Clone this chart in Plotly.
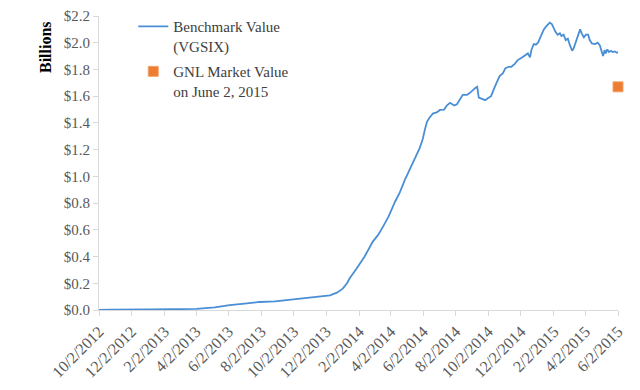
import plotly.graph_objects as go

bench_dates = [
    "2012-10-02", "2012-10-23", "2013-01-05", "2013-04-03", "2013-05-07", "2013-06-04",
    "2013-07-02", "2013-07-30", "2013-08-28", "2013-09-30", "2013-10-28", "2013-11-26",
    "2013-12-09", "2013-12-22", "2014-01-02", "2014-01-10", "2014-01-15", "2014-01-28",
    "2014-02-12", "2014-02-27", "2014-03-09", "2014-03-18", "2014-03-29", "2014-04-10",
    "2014-04-19", "2014-04-28", "2014-05-08", "2014-05-19", "2014-05-26", "2014-06-01",
    "2014-06-05", "2014-06-09", "2014-06-14", "2014-06-20", "2014-06-28", "2014-07-03",
    "2014-07-11", "2014-07-16", "2014-07-22", "2014-07-30", "2014-08-04", "2014-08-10",
    "2014-08-15", "2014-08-23", "2014-08-30", "2014-09-07", "2014-09-11", "2014-09-14",
    "2014-09-20", "2014-09-26", "2014-10-01", "2014-10-07", "2014-10-14", "2014-10-23",
    "2014-10-29", "2014-11-03", "2014-11-09", "2014-11-14", "2014-11-20", "2014-11-26",
    "2014-12-04", "2014-12-11", "2014-12-15", "2014-12-19", "2014-12-22", "2014-12-26",
    "2014-12-30", "2015-01-03", "2015-01-06", "2015-01-10", "2015-01-14", "2015-01-18",
    "2015-01-21", "2015-01-25", "2015-01-29", "2015-02-02", "2015-02-05", "2015-02-09",
    "2015-02-13", "2015-02-16", "2015-02-20", "2015-02-24", "2015-02-28", "2015-03-04",
    "2015-03-08", "2015-03-11", "2015-03-15", "2015-03-19", "2015-03-23", "2015-03-26",
    "2015-03-30", "2015-04-03", "2015-04-07", "2015-04-10", "2015-04-14", "2015-04-20",
    "2015-04-25", "2015-04-29", "2015-05-02", "2015-05-05", "2015-05-08", "2015-05-10",
    "2015-05-13", "2015-05-16", "2015-05-20", "2015-05-23", "2015-05-27", "2015-05-31",
    "2015-06-02",
]
bench_values = [
    0.000, 0.003, 0.004, 0.008, 0.020, 0.037,
    0.048, 0.060, 0.065, 0.080, 0.092, 0.102,
    0.110, 0.130, 0.160, 0.200, 0.237, 0.310,
    0.400, 0.510, 0.560, 0.620, 0.700, 0.810,
    0.880, 0.970, 1.050, 1.150, 1.210, 1.280,
    1.350, 1.410, 1.440, 1.470, 1.480, 1.497,
    1.500, 1.530, 1.550, 1.530, 1.540, 1.580,
    1.610, 1.610, 1.630, 1.660, 1.670, 1.590,
    1.580, 1.570, 1.585, 1.600, 1.670, 1.750,
    1.770, 1.810, 1.820, 1.820, 1.840, 1.870,
    1.890, 1.910, 1.920, 1.890, 1.950, 1.990,
    1.985, 2.000, 2.030, 2.070, 2.100, 2.120,
    2.130, 2.150, 2.140, 2.100, 2.080, 2.060,
    2.070, 2.050, 2.060, 2.020, 2.030, 1.980,
    1.940, 1.960, 2.010, 2.060, 2.100, 2.070,
    2.040, 2.060, 2.060, 2.020, 1.995, 1.990,
    2.000, 1.980, 1.930, 1.900, 1.945, 1.920,
    1.950, 1.930, 1.940, 1.930, 1.935, 1.925,
    1.930,
]

gnl_dates = ["2015-06-02"]
gnl_values = [1.67]

tick_dates = [
    "2012-10-02", "2012-12-02", "2013-02-02", "2013-04-02", "2013-06-02", "2013-08-02",
    "2013-10-02", "2013-12-02", "2014-02-02", "2014-04-02", "2014-06-02", "2014-08-02",
    "2014-10-02", "2014-12-02", "2015-02-02", "2015-04-02", "2015-06-02",
]
tick_labels = [
    "10/2/2012", "12/2/2012", "2/2/2013", "4/2/2013", "6/2/2013", "8/2/2013",
    "10/2/2013", "12/2/2013", "2/2/2014", "4/2/2014", "6/2/2014", "8/2/2014",
    "10/2/2014", "12/2/2014", "2/2/2015", "4/2/2015", "6/2/2015",
]

FONT = "Liberation Serif"

fig = go.Figure()
fig.add_trace(go.Scatter(
    x=bench_dates, y=bench_values, mode="lines",
    name="Benchmark Value<br>(VGSIX)", legendgroup="a",
    line=dict(color="#4A8FD6", width=1.8),
))
fig.add_trace(go.Scatter(
    x=gnl_dates, y=gnl_values, mode="markers",
    name="GNL Market Value<br>on June 2, 2015", legendgroup="b",
    marker=dict(symbol="square", size=10, color="#ED7D31",
                line=dict(color="#F4A36E", width=1)),
    cliponaxis=False,
))

fig.update_layout(
    width=640, height=390,
    margin=dict(l=91, r=30, t=8, b=88, autoexpand=False),
    paper_bgcolor="white", plot_bgcolor="white",
    font=dict(family=FONT, size=15, color="#595959"),
    showlegend=True,
    legend=dict(
        x=0.066, y=1.02, xanchor="left", yanchor="top",
        font=dict(family=FONT, size=15, color="#404040"),
        bgcolor="rgba(0,0,0,0)", tracegroupgap=3,
        itemwidth=30, valign="top",
    ),
    annotations=[dict(
        text="<b>Billions</b>", xref="paper", yref="paper",
        x=-0.102, y=0.99, xanchor="center", yanchor="top",
        textangle=-90, showarrow=False,
        font=dict(family=FONT, size=16, color="#000000"),
    )],
)
fig.update_xaxes(
    type="date", automargin=False,
    range=["2012-10-02", "2015-06-02"],
    tickmode="array", tickvals=tick_dates, ticktext=tick_labels,
    tickangle=-45,
    showgrid=False, zeroline=False,
    showline=True, linecolor="#D9D9D9", linewidth=1,
    ticks="outside", ticklen=5, tickcolor="#D9D9D9",
    tickfont=dict(family=FONT, size=16, color="#595959"),
)
fig.update_yaxes(
    automargin=False,
    range=[0, 2.2], dtick=0.2, tick0=0,
    tickformat="$.1f",
    showgrid=False, zeroline=False,
    showline=True, linecolor="#D9D9D9", linewidth=1,
    ticks="outside", ticklen=5, tickcolor="#D9D9D9",
    tickfont=dict(family=FONT, size=15, color="#595959"),
)

fig.write_html("out.html")
